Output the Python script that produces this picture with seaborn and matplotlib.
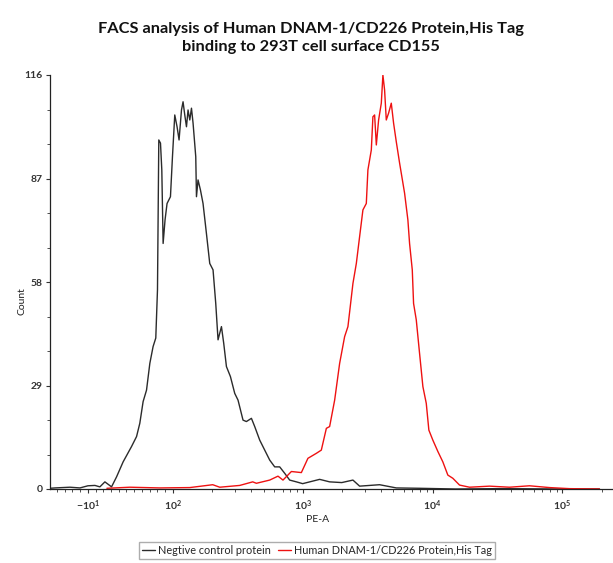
import numpy as np
import pandas as pd
import matplotlib
matplotlib.use("Agg")
import matplotlib.pyplot as plt
from matplotlib.ticker import FixedLocator, MultipleLocator, NullFormatter
import seaborn as sns

# PE-A channel values and counts
neg_pe = [-59, -52.6, -33.2, -20.2, -9.9, -0.8, 5.6, 12.1, 20.7, 27.2, 35.7, 46.6, 53.1,
          57.3, 61.6, 66.0, 70.3, 74.5, 78.0, 80.2, 81.9, 84.1, 85.8, 87.5, 90.0, 92.6,
          97.0, 99.6, 103.6, 107.9, 111.8, 116.7, 120.0, 123.7, 127.5, 131.1, 135.2,
          139.3, 143.3, 150.3, 152.2, 156.5, 163.3, 171.0, 181.6, 192.6, 204.2, 214.2,
          223.1, 237.0, 246.8, 258.9, 277.9, 299.9, 318.0, 347.4, 368.9, 403.2, 427.4,
          467.0, 510.3, 557.6, 609.1, 665.5, 727.2, 794.3, 894.5, 1000, 1351, 1613, 2000,
          2438, 2744, 3911, 5257, 7943, 15000, 32740, 100000, 192700]
neg_count = [0.2, 0.3, 0.5, 0.3, 0.9, 1.0, 0.6, 2.0, 0.6, 3.4, 7.6, 11.9, 14.7,
             18.4, 24.5, 27.7, 35.2, 39.9, 42.3, 55.8, 97.8, 96.9, 89.4, 68.8, 75.4, 80.0,
             81.9, 93.1, 104.8, 101.5, 97.8, 106.2, 108.5, 104.8, 101.5, 106.2, 103.4,
             106.7, 102.5, 93.1, 81.9, 86.6, 83.8, 80.0, 71.6, 63.2, 61.4, 52.0,
             41.8, 45.5, 40.8, 34.3, 31.5, 26.8, 24.9, 19.3, 18.9, 19.8, 17.5,
             13.7, 10.9, 8.1, 6.2, 6.2, 4.4, 2.5, 2.0, 1.5, 2.7, 2.0, 1.8,
             2.5, 0.8, 1.2, 0.3, 0.2, 0.0, 0.1, 0.0, 0.0]

pos_pe = [14.7, 44.4, 83.2, 135.2, 203.1, 229.9, 327.6, 412.5, 440.4, 557.6, 645.7, 705.5,
          818.8, 977.2, 1098, 1275, 1392, 1522, 1613, 1763, 1926, 2104, 2231, 2438, 2589,
          2744, 2910, 3090, 3179, 3377, 3474, 3580, 3690, 3843, 4031, 4147, 4273, 4403,
          4586, 4811, 5012, 5257, 5576, 6090, 6457, 6654, 6980, 7142, 7492, 7943, 8424,
          8945, 9366, 10050, 10990, 12000, 13110, 14330, 16130, 19260, 27440, 39110,
          55720, 79430, 113200, 192700]
pos_count = [0.2, 0.5, 0.3, 0.4, 1.2, 0.5, 1.0, 2.0, 1.6, 2.5, 3.6, 2.5,
             4.9, 4.6, 8.6, 10.0, 10.9, 17.0, 17.5, 24.9, 35.2, 42.7, 45.5, 57.6, 63.2,
             70.7, 78.2, 80.0, 89.4, 95.0, 104.3, 104.8, 96.4, 103.4, 108.1, 116.0, 111.8, 103.4,
             105.3, 108.1, 102.5, 97.3, 91.3, 82.9, 75.4, 68.8, 61.4, 52.0, 47.4, 38.0, 28.7,
             24.0, 16.5, 13.7, 10.5, 7.6, 3.9, 3.0, 1.1, 0.5, 0.8, 0.5,
             0.9, 0.4, 0.1, 0.0]

x_ticks = [-10, 100, 1000, 10000, 100000]
x_tick_labels = [r'$\mathregular{-10^{1}}$', r'$\mathregular{10^{2}}$', r'$\mathregular{10^{3}}$',
                 r'$\mathregular{10^{4}}$', r'$\mathregular{10^{5}}$']
y_ticks = [0, 29, 58, 87, 116]

sns.set_theme(style="ticks")
plt.rcParams['font.family'] = ['Lato', 'DejaVu Sans']

fig = plt.figure(figsize=(6.13, 5.63), dpi=100)
ax = fig.add_axes([50 / 613, 74 / 563, 1 - 50 / 613, (489 - 75) / 563])

sns.lineplot(x=neg_pe, y=neg_count, color='#2b2b2b', lw=1.0, ax=ax,
             sort=False, estimator=None, label='Negtive control protein')
sns.lineplot(x=pos_pe, y=pos_count, color='#ee1111', lw=1.0, ax=ax,
             sort=False, estimator=None, label='Human DNAM-1/CD226 Protein,His Tag')

ax.set_xscale('symlog', linthresh=100, linscale=0.535)
ax.set_xlim(-59, 2.45e5)
ax.set_ylim(0, 116)

ax.xaxis.set_major_locator(FixedLocator(x_ticks))
ax.set_xticklabels(x_tick_labels)
minor = list(range(-50, 100, 10))
for dec in [100, 1000, 10000, 100000]:
    minor += [dec * k for k in range(2, 10) if dec * k < 2.45e5]
ax.xaxis.set_minor_locator(FixedLocator(minor))
ax.xaxis.set_minor_formatter(NullFormatter())

ax.yaxis.set_major_locator(FixedLocator(y_ticks))
ax.yaxis.set_minor_locator(MultipleLocator(29 / 3))

ax.tick_params(axis='both', which='major', labelsize=7.5, length=3, width=0.8,
               colors='#333333', pad=2)
ax.tick_params(axis='x', which='major', pad=4)
ax.tick_params(axis='both', which='minor', length=2, width=0.6, color='#333333')
for lab in ax.get_xticklabels() + ax.get_yticklabels():
    lab.set_fontweight('bold')

sns.despine(ax=ax)
for s in ['left', 'bottom']:
    ax.spines[s].set_color('#222222')
    ax.spines[s].set_linewidth(0.9)
ax.set_xlabel('')
ax.set_ylabel('')

fig.text(22 / 613, 1 - 301 / 563, 'Count', rotation=90, ha='center', va='center',
         fontsize=7.5, color='#222222')
fig.text(318 / 613, 1 - 519 / 563, 'PE-A', ha='center', va='center',
         fontsize=7.5, color='#222222')
fig.text(311 / 613, 1 - 38 / 563,
         'FACS analysis of Human DNAM-1/CD226 Protein,His Tag\nbinding to 293T cell surface CD155',
         ha='center', va='center', fontsize=11.8, fontweight='bold', color='#111111',
         linespacing=1.35)

handles, labels = ax.get_legend_handles_labels()
ax.get_legend().remove()
fig.legend(handles, labels, loc='center', bbox_to_anchor=(317 / 613, 1 - 550.5 / 563),
           ncol=2, fontsize=7.8, frameon=True, fancybox=False, edgecolor='#999999',
           handlelength=1.2, handletextpad=0.3, columnspacing=0.6, borderpad=0.25,
           borderaxespad=0)

fig.savefig('out.png', dpi=100)
